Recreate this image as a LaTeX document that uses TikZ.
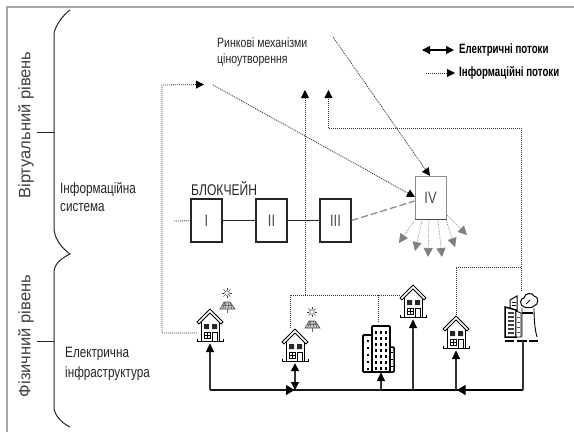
\documentclass[tikz,border=0pt]{standalone}
\usepackage{fontspec}
\setmainfont{Liberation Sans}
\newfontfamily\nar[FakeStretch=0.78]{Liberation Sans}
\newfontfamily\narb[FakeStretch=0.72]{Liberation Sans Bold}
\usetikzlibrary{arrows.meta}
\tikzset{
  x=1pt,y=-1pt,
  info/.style={line width=0.8pt,dash pattern=on 1pt off 1pt,black!80},
  ihead/.style={-{Triangle[length=8pt,width=8pt,black]}},
  elec/.style={line width=1.4pt,black!80},
  ehead/.style={-{Triangle[length=9pt,width=8pt,black]}},
  bus/.style={line width=2.2pt,black},
  chain/.style={draw=black!85,line width=1.2pt,fill=white,minimum width=31pt,minimum height=43pt,inner sep=0pt,font=\nar\fontsize{16.5}{18}\selectfont,text=black!70},
  gate/.style={draw=black!45,line width=1pt,fill=white,minimum width=31pt,minimum height=43pt,inner sep=0pt,font=\nar\fontsize{16.5}{18}\selectfont,text=black!70},
  fan/.style={line width=0.7pt,dash pattern=on 1pt off 1.2pt,black!45,-{Triangle[length=9pt,width=9pt,black!50]}},
  lbl/.style={font=\nar\fontsize{15}{17}\selectfont,anchor=west,inner sep=0pt,text=black!85},
  lvl/.style={font=\fontsize{16.5}{18}\selectfont,rotate=90,inner sep=0pt,text=black!75},
  leg/.style={font=\narb\fontsize{13.5}{15}\selectfont,anchor=west,inner sep=0pt},
  slot/.style={inner sep=0pt,minimum width=26pt,minimum height=34pt},
  pics/house/.style={code={
    \draw[line width=1pt,fill=white,line join=round] (-9,-6) -- (-9,15) -- (9,15) -- (9,-6);
    \draw[line width=1pt,fill=white,line join=round] (-13,-4) -- (-11,-2) -- (0,-13) -- (11,-2) -- (13,-4) -- (0,-17) -- cycle;
    \draw[line width=1.6pt] (-13,15.5) -- (-9,15.5) (9,15.5) -- (13,15.5);
    \draw[line width=1pt] (-13,13) -- (-13,16) (13,13) -- (13,16);
    \fill[black!85] (-6,-2) rectangle (-1,3) (2,-2) rectangle (7,3);
    \draw[line width=0.7pt] (-6,6) rectangle (0,12) (-3,6) -- (-3,12) (-6,9) -- (0,9);
    \draw[line width=0.8pt] (2,15) -- (2,6) -- (7,6) -- (7,15);
  }},
  pics/solar/.style={code={
    \draw[line width=0.5pt,black!75] (0,-9) circle (2.3);
    \foreach \a in {0,45,...,315}{\draw[line width=0.5pt,black!75] (\a:3.2) ++(0,-9) -- ++(\a:1.8);}
    \draw[line width=0.6pt,black!70,fill=black!20] (-7,7) -- (-3,0) -- (3,0) -- (8,7) -- cycle;
    \draw[line width=0.5pt,black!70] (-5,3.5) -- (5.5,3.5) (-1,0) -- (-2,7) (1,0) -- (2,7) (-4.5,7) -- (-2,0) (5,7) -- (3,0);
    \draw[line width=1pt,black!60] (0,7) -- (0,11);
  }}
}
\begin{document}
\begin{tikzpicture}
\useasboundingbox (0,0) rectangle (574,432);
\fill[white] (0,0) rectangle (574,432);
\draw[black!35,line width=2pt] (6.5,432) -- (6.5,6.5) -- (574,6.5);
% brace
\draw[line width=1pt,black!85] (70,10) .. controls (62,16) and (56,25) .. (54,33) -- (54,229)
  .. controls (55,240) and (62,248) .. (70,254) .. controls (62,258) and (55,263) .. (54,271)
  -- (54,409) .. controls (56,417) and (62,423) .. (70,427);
\draw[line width=1pt,black!85] (37,132) -- (54,132) (37,341) -- (54,341);
\node[lvl] (virt) at (26,125) {Віртуальний рівень};
\node[lvl] (phys) at (26,336) {Фізичний рівень};
\node[lbl] (is1) at (60,189) {Інформаційна};
\node[lbl] (is2) at (60,208) {система};
\node[lbl] (ei1) at (65,354) {Електрична};
\node[lbl] (ei2) at (65,374) {інфраструктура};
\node[lbl,font=\nar\fontsize{13.5}{15}\selectfont] (m1) at (217,43) {Ринкові механізми};
\node[lbl,font=\nar\fontsize{13.5}{15}\selectfont] (m2) at (217,60) {ціноутворення};
\node[leg] (l1) at (459,50) {Електричні потоки};
\node[leg] (l2) at (459,73) {Інформаційні потоки};
\coordinate (l1a) at (422,50); \coordinate (l1b) at (454,50);
\coordinate (l2a) at (426,73); \coordinate (l2b) at (455,73);
\draw[line width=1.2pt,{Triangle[length=8pt,width=8pt]}-{Triangle[length=8pt,width=8pt]}] (l1a) -- (l1b);
\draw[info,ihead] (l2a) -- (l2b);
% blockchain
\node[lbl,font=\nar\fontsize{15.5}{17}\selectfont] (bc) at (191,189) {БЛОКЧЕЙН};
\node[chain] (b1) at (206.5,220.5) {I};
\node[chain] (b2) at (271.5,220.5) {II};
\node[chain] (b3) at (335.5,220.5) {III};
\node[gate] (b4) at (430.5,197.5) {IV};
\coordinate (b0) at (174,221);
\draw[info] (b0) -- (b1);
\draw[line width=1.5pt,black!85] (b1) -- (b2);
\draw[line width=1.5pt,black!85] (b2) -- (b3);
\draw[line width=1.3pt,black!45,dash pattern=on 7pt off 3pt] (b3.east) -- (b4.west |- 0,201);
\draw[line width=1.3pt,black!70] (b4.south west) -- (b4.south east);
% fan
\foreach \sx/\sy/\tx/\ty in {414/221/399/243,422/221/415/251,429/220/428/257,438/220/442/257,446/220/455/247,447/215/467/235}{
  \draw[fan] (\sx,\sy) -- (\tx,\ty);
}
% consumers
\node[slot] (h1) at (210,326) {}; \pic at (h1) {house};
\node[slot] (h2) at (295,346) {}; \pic at (h2) {house};
\node[slot] (h3) at (413,302) {}; \pic at (h3) {house};
\node[slot] (h4) at (456,333) {}; \pic at (h4) {house};
\pic at (227,302) {solar};
\pic at (312,321) {solar};
% tower block
\node[inner sep=0pt,minimum width=31pt,minimum height=46pt] (tw) at (378.5,349) {};
\draw[line width=1.8pt,rounded corners=1pt,fill=white] (372,335) -- (363,335) -- (363,372) -- (372,372);
\draw[line width=1.5pt,rounded corners=1pt,fill=white] (390,347) -- (394,347) -- (394,372) -- (390,372);
\draw[line width=1.8pt,rounded corners=1pt,fill=white] (372,372) -- (372,326) -- (390,326) -- (390,372) -- cycle;
\foreach \yy in {331,337,...,367}{\foreach \xx in {375,379.5,384.5}{\fill (\xx,\yy) rectangle ++(2.2,2.8);}}
\foreach \yy in {340,347,...,368}{\fill (366.5,\yy) rectangle ++(2,2.4);}
\foreach \yy in {352,359,366}{\draw[line width=0.6pt] (391,\yy) -- (393,\yy);}
% plant
\node[inner sep=0pt,minimum width=33pt,minimum height=48pt] (pl) at (521.5,317) {};
\draw[line width=1pt,fill=white] (510,308) -- (510,300) -- (517,296) -- (517,312) -- cycle;
\draw[line width=0.7pt] (512,302) -- (516,302) (512,305) -- (516,305);
\draw[line width=1.5pt,fill=white] (505,307) -- (516,310) -- (516,337) -- (505,337) -- cycle;
\foreach \yy in {313,317,...,333}{\draw[line width=1.3pt,black!75] (507.5,\yy) -- (514,\yy);}
\draw[line width=0.8pt,fill=white] (516,311) -- (521,313) -- (521,337) -- (516,337) -- cycle;
\foreach \yy in {317,322,...,332}{\draw[line width=0.9pt,black!65] (517,\yy) -- (520,\yy);}
\draw[line width=0.9pt] (522,308) -- (522,337) (534,308) .. controls (534,320) and (535,330) .. (537,337);
\draw[line width=1.5pt] (522,313) -- (533,313);
\draw[line width=1pt,fill=white] (524,307) .. controls (519,305) and (520,298) .. (524,298) .. controls (524,293) and (533,292) .. (534,296) .. controls (539,296) and (539,305) .. (534,306) .. controls (533,308) and (527,308) .. (524,307) -- cycle;
\draw[line width=0.8pt] (526,304) -- (530,300);
\draw[line width=1.2pt] (505,341) -- (514,341) (517,341) -- (527,341) (529,341) -- (538,341);
% electrical
\coordinate (n0) at (210,390);
\coordinate (n1) at (295,390);
\coordinate (n2) at (381,390);
\coordinate (n3) at (413,390);
\coordinate (n4) at (456,390);
\coordinate (n5) at (523,390);
\draw[line width=1.6pt,black!90] (n0) -- (n1) -- (n2);
\draw[bus] (n2) -- (n5);
\draw[elec,{Triangle[length=9pt,width=8pt,black]}-] (h1.south) -- (n0);
\draw[elec,{Triangle[length=8pt,width=8pt,black]}-{Triangle[length=8pt,width=8pt,black]}] (h2.south) -- (n1);
\draw[elec,ehead] (n2) -- (tw.south -| n2);
\draw[elec,ehead] (n3) -- (h3.south);
\draw[elec,ehead] (n4) -- (h4.south);
\draw[elec] (n5) -- (n5 |- pl.south);
\coordinate (a1) at (286,390); \coordinate (a2) at (294.5,390);
\draw[-{Triangle[length=8.5pt,width=10pt,black]},line width=1pt] (a1) -- (a2);
\coordinate (a3) at (468,390); \coordinate (a4) at (457,390);
\draw[-{Triangle[length=8.5pt,width=10pt,black]},line width=1pt] (a3) -- (a4);
% information
\coordinate (i1) at (162,333); \coordinate (i2) at (162,85); \coordinate (mk) at (204,84.5);
\draw[info,ihead] (h1.west |- 0,333) -- (i1) -- (i2) -- (mk);
\coordinate (ms) at (213,85); \coordinate (ivl) at (415,197);
\draw[info,ihead] (ms) -- (ivl);
\coordinate (ps) at (333,37); \coordinate (ivt) at (430,176);
\draw[info,ihead] (ps) -- (ivt);
\coordinate (j1) at (305,295); \coordinate (t1) at (305,90);
\coordinate (j2) at (290,295); \coordinate (j3) at (400,295); \coordinate (j4) at (378,295);
\draw[info,ihead] (j1) -- (t1);
\draw[info] (290,328) -- (j2) -- (j3);
\draw[info] (j4) -- (378,323);
\coordinate (t2) at (328.5,90); \coordinate (c1) at (328.5,128); \coordinate (c2) at (521,128);
\coordinate (c3) at (521,291); \coordinate (c4) at (521,267); \coordinate (c5) at (456,267);
\draw[info,ihead] (c3) -- (c2) -- (c1) -- (t2);
\draw[info] (c4) -- (c5) -- (h4.north);
\end{tikzpicture}
\end{document}
